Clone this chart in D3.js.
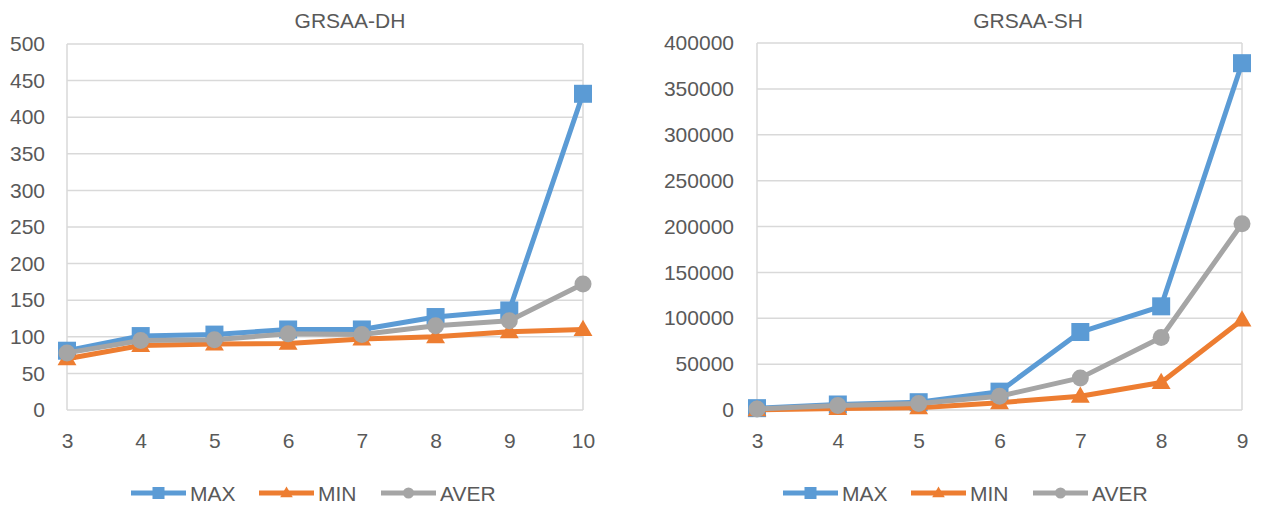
<!DOCTYPE html>
<html>
<head>
<meta charset="utf-8">
<script src="https://cdn.jsdelivr.net/npm/d3@7"></script>
<style>
  html, body { margin: 0; padding: 0; background: #fff; }
  svg text { font-family: "Liberation Sans", Arial, sans-serif; fill: #595959; }
</style>
</head>
<body>
<svg id="chart" width="1275" height="508"></svg>
<script>
// ---- Data ----
const seriesNames = ["MAX", "MIN", "AVER"];

const dhCategories = [3, 4, 5, 6, 7, 8, 9, 10];
const dhMax  = [81, 101, 103, 110, 110, 127, 136, 432];
const dhMin  = [70, 88, 90, 91, 97, 100, 107, 110];
const dhAver = [78, 95, 96, 104, 103, 115, 122, 172];
const dhTicks = [0, 50, 100, 150, 200, 250, 300, 350, 400, 450, 500];

const shCategories = [3, 4, 5, 6, 7, 8, 9];
const shMax  = [2000, 6000, 8500, 20000, 85000, 113000, 378000];
const shMin  = [300, 1500, 2500, 8000, 15000, 30000, 98000];
const shAver = [1000, 5000, 7000, 15000, 35000, 79000, 203000];
const shTicks = [0, 50000, 100000, 150000, 200000, 250000, 300000, 350000, 400000];

const colors = { MAX: "#5B9BD5", MIN: "#ED7D31", AVER: "#A5A5A5" };
const markers = { MAX: "square", MIN: "triangle", AVER: "circle" };

const svg = d3.select("#chart");

function drawMarker(g, type, x, y, color, s) {
  if (type === "square") {
    g.append("rect").attr("x", x - s / 2).attr("y", y - s / 2)
      .attr("width", s).attr("height", s).attr("fill", color);
  } else if (type === "triangle") {
    const w = s * 1.05, h = s * 0.9;
    g.append("path")
      .attr("d", `M${x},${y - h * 0.6}L${x + w / 2},${y + h * 0.4}L${x - w / 2},${y + h * 0.4}Z`)
      .attr("fill", color);
  } else {
    g.append("circle").attr("cx", x).attr("cy", y).attr("r", s / 2 - 0.5).attr("fill", color);
  }
}

function drawChart(cfg) {
  const g = svg.append("g");
  const x = d3.scalePoint().domain(cfg.categories).range([cfg.x0, cfg.x1]);
  const y = d3.scaleLinear().domain([0, cfg.ticks[cfg.ticks.length - 1]]).range([cfg.y0, cfg.y1]);

  // gridlines
  g.append("g").selectAll("line").data(cfg.ticks).join("line")
    .attr("x1", cfg.x0).attr("x2", cfg.x1)
    .attr("y1", d => y(d)).attr("y2", d => y(d))
    .attr("stroke", "#D9D9D9").attr("stroke-width", 1.5);
  // border verticals
  g.append("line").attr("x1", cfg.x0).attr("x2", cfg.x0).attr("y1", cfg.y1).attr("y2", cfg.y0)
    .attr("stroke", "#D9D9D9").attr("stroke-width", 1.5);
  g.append("line").attr("x1", cfg.x1).attr("x2", cfg.x1).attr("y1", cfg.y1).attr("y2", cfg.y0)
    .attr("stroke", "#D9D9D9").attr("stroke-width", 1.5);

  // y axis labels
  const yAxis = d3.axisLeft(y).tickValues(cfg.ticks).tickFormat(d3.format("d")).tickSize(0).tickPadding(0);
  const ya = g.append("g").attr("transform", `translate(${cfg.yLabelX},0)`).call(yAxis);
  ya.select(".domain").remove();
  ya.selectAll("text").attr("font-size", 21).attr("fill", "#595959")
    .style("font-family", '"Liberation Sans", Arial, sans-serif');

  // x axis labels
  const xAxis = d3.axisBottom(x).tickSize(0).tickPadding(0);
  const xa = g.append("g").attr("transform", `translate(0,${cfg.xLabelY})`).call(xAxis);
  xa.select(".domain").remove();
  xa.selectAll("text").attr("font-size", 21).attr("fill", "#595959").attr("dy", "0")
    .attr("y", 0)
    .style("font-family", '"Liberation Sans", Arial, sans-serif');

  // title
  g.append("text").attr("x", cfg.titleX).attr("y", 28).attr("text-anchor", "middle")
    .attr("font-size", 21).text(cfg.title);

  // series
  const line = d3.line().x(d => x(d[0])).y(d => y(d[1]));
  cfg.series.forEach((vals, i) => {
    const name = seriesNames[i];
    const pts = cfg.categories.map((c, j) => [c, vals[j]]);
    const sg = g.append("g");
    sg.append("path").datum(pts).attr("d", line).attr("fill", "none")
      .attr("stroke", colors[name]).attr("stroke-width", 5)
      .attr("stroke-linejoin", "round").attr("stroke-linecap", "round");
    pts.forEach(p => drawMarker(sg, markers[name], x(p[0]), y(p[1]), colors[name], 18));
  });

  // legend
  const lg = g.append("g");
  const legendY = 493;
  cfg.legendX.forEach((lx, i) => {
    const name = seriesNames[i];
    lg.append("line").attr("x1", lx).attr("x2", lx + 55).attr("y1", legendY).attr("y2", legendY)
      .attr("stroke", colors[name]).attr("stroke-width", 5);
    drawMarker(lg, markers[name], lx + 27.5, legendY, colors[name], 12);
    lg.append("text").attr("x", lx + 59).attr("y", legendY).attr("dy", "0.36em")
      .attr("font-size", 21).text(name);
  });
}

drawChart({
  title: "GRSAA-DH", titleX: 350,
  categories: dhCategories, series: [dhMax, dhMin, dhAver], ticks: dhTicks,
  x0: 67, x1: 583, y0: 410, y1: 44, yLabelX: 45, xLabelY: 448,
  legendX: [131, 259, 381]
});

drawChart({
  title: "GRSAA-SH", titleX: 1028,
  categories: shCategories, series: [shMax, shMin, shAver], ticks: shTicks,
  x0: 757, x1: 1242, y0: 410, y1: 43, yLabelX: 734, xLabelY: 448,
  legendX: [783, 911, 1033]
});
</script>
</body>
</html>
